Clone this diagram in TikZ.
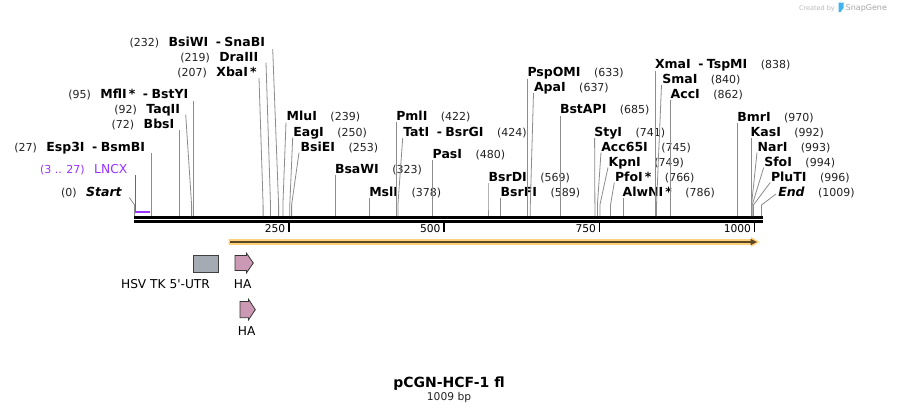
\documentclass[tikz,border=0pt]{standalone}
\usepackage{fontspec}
\setmainfont{DejaVu Sans}
\usetikzlibrary{calc}
\definecolor{conncol}{HTML}{8C8C8C}
\definecolor{lnxpurple}{HTML}{9933FF}
\definecolor{orangeglow}{HTML}{FFD07A}
\definecolor{arrowdark}{HTML}{5A4726}
\definecolor{hapink}{HTML}{CC99B4}
\definecolor{utrgray}{HTML}{A5ABB2}
\definecolor{numcol}{HTML}{222222}
\definecolor{wmgray}{HTML}{BBBBBB}
\definecolor{wmblue}{HTML}{3FB4F0}
\newcommand\nmf{\fontsize{12.5}{14}\selectfont\bfseries}
\newcommand\nuf{\fontsize{11}{13}\selectfont\mdseries\color{numcol}}
\newcommand\txtR[2]{{\nmf #1}\hspace{13.5pt}{\nuf #2}}
\newcommand\txtL[2]{{\nuf #1}\hspace{9.5pt}{\nmf #2}}
\newcommand\dsh{\hspace{7.5pt}-\hspace{3.5pt}}
% id, style, x, y, text, startx, starty, sitex
\newcommand\enz[8]{%
  \node[#2] (#1) at (#3,#4) {#5};
  \coordinate (#1a) at (#6,#7);
  \coordinate (#1b) at (#8,205);
  \coordinate (#1c) at (#8,216);
  \draw[conn] (#1a) -- (#1b) -- (#1c);
}
\begin{document}
\begin{tikzpicture}[x=1pt,y=-1pt,
  conn/.style={draw=conncol, line width=0.8pt},
  lblR/.style={anchor=base west, inner sep=0pt, outer sep=0pt},
  lblL/.style={anchor=base east, inner sep=0pt, outer sep=0pt},
  bbline/.style={draw=black, line width=2.7pt},
  tickmark/.style={draw=black, line width=1.5pt},
  ticklbl/.style={anchor=base east, inner sep=0pt, font=\fontsize{10.7}{12}\selectfont},
  featlbl/.style={anchor=base, inner sep=0pt, font=\fontsize{12.2}{14}\selectfont},
  hashape/.style={fill=hapink, draw=black!80, line width=0.8pt, line join=miter}]
\useasboundingbox (0,0) rectangle (897,413);
\fill[white] (0,0) rectangle (897,413);

% watermark
\node[anchor=base east, inner sep=0pt, text=wmgray, font=\fontsize{6.5}{8}\selectfont] (wm1) at (835,10) {Created by};
\fill[wmblue] (838.5,2.5) -- (843.5,2.5) -- (843.5,8) -- (840.5,12) -- (838.5,12) -- cycle;
\node[anchor=base west, inner sep=0pt, text=wmgray!90!black, font=\fontsize{8}{9}\selectfont] (wm2) at (845.5,10.5) {SnapGene};

% backbone
\coordinate (bbL1) at (134.2,217.35);
\coordinate (bbR1) at (762.6,217.35);
\coordinate (bbL2) at (134.2,221.65);
\coordinate (bbR2) at (762.6,221.65);
\draw[bbline] (bbL1) -- (bbR1);
\draw[bbline] (bbL2) -- (bbR2);

% ticks
\foreach \tx/\tl in {288.8/250, 444/500, 599.5/750, 754.5/1000}{
  \coordinate (t\tl a) at (\tx,222);
  \coordinate (t\tl b) at (\tx,231.8);
  \draw[tickmark] (t\tl a) -- (t\tl b);
  \node[ticklbl] (tl\tl) at (\tx-3.3,232.3) {\tl};
}

% LNCX feature
\node[lblL, text=lnxpurple] (lncx) at (127.3,173.3) {{\fontsize{11}{13}\selectfont (3 .. 27)}\hspace{9.5pt}{\fontsize{12.3}{14}\selectfont LNCX}};
\coordinate (lx1) at (135.3,175);
\coordinate (lx2) at (135.3,212.3);
\coordinate (lx3) at (149.6,212.3);
\draw[lnxpurple, line width=1pt] (lx1) -- (lx2);
\draw[lnxpurple, line width=2pt] (lx2) -- (lx3);

% Start
\enz{st}{lblL}{121.7}{196}{{\nuf (0)}\hspace{9.5pt}{\nmf\itshape Start}}{129.3}{197.5}{134.6}

% left-hand labels
\enz{e27}{lblL}{145}{151.5}{\txtL{(27)}{Esp3I\dsh BsmBI}}{151.2}{153}{151.2}
\enz{e72}{lblL}{174.3}{128.5}{\txtL{(72)}{BbsI}}{179.1}{130}{179.1}
\enz{e92}{lblL}{180}{113}{\txtL{(92)}{TaqII}}{185.7}{114.5}{191.6}
\enz{e95}{lblL}{188.3}{98}{\txtL{(95)}{MflI\,*\dsh BstYI}}{193.4}{100.5}{193.4}
\enz{e207}{lblL}{256.7}{76.5}{\txtL{(207)}{XbaI\,*}}{259}{78}{263.1}
\enz{e219}{lblL}{258.3}{61}{\txtL{(219)}{DraIII}}{266}{62.5}{270.5}
\enz{e232}{lblL}{265}{46.5}{\txtL{(232)}{BsiWI\dsh SnaBI}}{272.7}{49}{278.6}

% right-hand labels
\enz{e239}{lblR}{286.7}{120}{\txtR{MluI}{(239)}}{286}{122.5}{282.9}
\enz{e250}{lblR}{293.3}{136}{\txtR{EagI}{(250)}}{292.7}{137.5}{289.8}
\enz{e253}{lblR}{300.7}{151}{\txtR{BsiEI}{(253)}}{299}{152.7}{291.6}
\enz{e323}{lblR}{335}{173.5}{\txtR{BsaWI}{(323)}}{335.1}{175}{335.1}
\enz{e378}{lblR}{369.3}{196}{\txtR{MslI}{(378)}}{369.3}{197.5}{369.3}
\enz{e422}{lblR}{396.3}{120}{\txtR{PmlI}{(422)}}{396.7}{122}{396.7}
\enz{e424}{lblR}{403.3}{136}{\txtR{TatI\dsh BsrGI}{(424)}}{402.7}{138}{397.9}
\enz{e480}{lblR}{432.7}{158}{\txtR{PasI}{(480)}}{432.7}{160}{432.7}
\enz{e569}{lblR}{488.7}{181}{\txtR{BsrDI}{(569)}}{488}{183}{488}
\enz{e589}{lblR}{500.7}{196}{\txtR{BsrFI}{(589)}}{500.5}{198}{500.5}
\enz{e633}{lblR}{527.5}{76.5}{\txtR{PspOMI}{(633)}}{527.8}{78.5}{527.8}
\enz{e637}{lblR}{534}{91.5}{\txtR{ApaI}{(637)}}{533.5}{93}{530.3}
\enz{e685}{lblR}{560}{113.5}{\txtR{BstAPI}{(685)}}{560.1}{115.5}{560.1}
\enz{e741}{lblR}{594.3}{136}{\txtR{StyI}{(741)}}{594.6}{138}{594.9}
\enz{e745}{lblR}{601.3}{151}{\txtR{Acc65I}{(745)}}{601}{152.5}{597.4}
\enz{e749}{lblR}{608.7}{166}{\txtR{KpnI}{(749)}}{608}{167.5}{599.9}
\enz{e766}{lblR}{615}{181}{\txtR{PfoI\,*}{(766)}}{614.3}{182.5}{610.5}
\enz{e786}{lblR}{622.7}{196}{\txtR{AlwNI\,*}{(786)}}{622.9}{198}{622.9}
\enz{e838}{lblR}{655}{68.5}{\txtR{XmaI\dsh TspMI}{(838)}}{655.2}{70.5}{655.2}
\enz{e840}{lblR}{662.3}{83.5}{\txtR{SmaI}{(840)}}{661.5}{85}{656.5}
\enz{e862}{lblR}{670.7}{98}{\txtR{AccI}{(862)}}{670.1}{100}{670.1}
\enz{e970}{lblR}{737.3}{121}{\txtR{BmrI}{(970)}}{737.3}{123}{737.3}
\enz{e992}{lblR}{750.7}{136}{\txtR{KasI}{(992)}}{750.9}{138}{750.9}
\enz{e993}{lblR}{757.7}{151}{\txtR{NarI}{(993)}}{757}{152.5}{751.5}
\enz{e994}{lblR}{764.3}{166}{\txtR{SfoI}{(994)}}{763.7}{167.5}{752.2}
\enz{e996}{lblR}{771}{181}{\txtR{PluTI}{(996)}}{770.3}{182.5}{753.4}
\enz{end}{lblR}{778.3}{196}{\txtR{\itshape End}{(1009)}}{776}{194}{761.5}

% orange ORF arrow
\fill[orangeglow] (228.6,239.2) -- (751,239.2) -- (751,237) -- (759.5,242) -- (751,247) -- (751,244.8) -- (228.6,244.8) -- cycle;
\draw[arrowdark, line width=2pt] (230,242) -- (752,242);
\fill[arrowdark] (750.5,238.8) -- (756.8,242) -- (750.5,245.2) -- cycle;

% HSV TK 5'-UTR
\node[draw=black!75, fill=utrgray, line width=0.8pt, minimum width=25.6pt, minimum height=16.7pt, inner sep=0pt, anchor=north west] (utr) at (192.7,255) {};
\node[featlbl] (utrl) at (165.5,288.3) {HSV TK 5\textquotesingle-UTR};

% HA features
\draw[hashape] (235,255.5) -- (246.5,255.5) -- (246.5,253.2) -- (253.3,263) -- (246.5,272.8) -- (246.5,270.5) -- (235,270.5) -- cycle;
\node[featlbl] (ha1) at (242.7,288.3) {HA};
\draw[hashape] (240,301.5) -- (248.5,301.5) -- (248.5,299.3) -- (255.3,309.6) -- (248.5,319.9) -- (248.5,317.7) -- (240,317.7) -- cycle;
\node[featlbl] (ha2) at (246.7,335) {HA};

% title
\node[anchor=base, inner sep=0pt, font=\fontsize{14}{16}\selectfont\bfseries] (title) at (449,387.8) {pCGN-HCF-1 fl};
\node[anchor=base, inner sep=0pt, font=\fontsize{10.7}{12}\selectfont, text=numcol] (len) at (449,400.8) {1009 bp};
\end{tikzpicture}
\end{document}
